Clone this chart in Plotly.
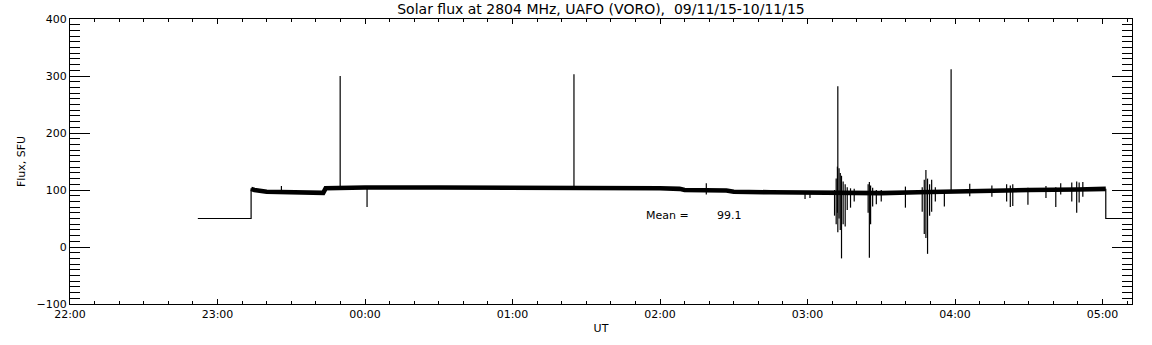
import plotly.graph_objects as go

# ---------------- data ----------------
TITLE = "Solar flux at 2804 MHz, UAFO (VORO),  09/11/15-10/11/15"
X_LABEL = "UT"
Y_LABEL = "Flux, SFU"
MEAN_LABEL = "Mean ="
MEAN_VALUE = "99.1"

# leading / trailing calibration steps (thin line)
step_start_t = ["22:52:00", "23:13:40", "23:13:40"]
step_start_v = [50, 50, 103]
step_end_t = ["05:01:20", "05:01:20", "05:12:00"]
step_end_v = [102, 50, 50]

# smoothed flux level (the thick noisy band)
band_t = ["23:13:40", "23:15:00", "23:20:00", "23:30:00", "23:40:00", "23:43:00",
          "23:44:00", "23:50:00", "00:00:00", "00:30:00", "01:00:00", "01:30:00",
          "02:00:00", "02:08:00", "02:10:00", "02:27:00", "02:30:00", "02:45:00",
          "03:00:00", "03:12:00", "03:30:00", "03:45:00", "04:00:00", "04:30:00",
          "04:50:00", "05:01:20"]
band_v = [102, 100, 97, 96, 95.5, 95,
          103, 104, 104.5, 104.5, 104.5, 104,
          103, 102, 100, 99, 97, 96,
          95.5, 94, 94.5, 96, 98, 100,
          101, 102]

# individual spikes / dips: time, lowest value, highest value
spike_t = ["23:26:00", "23:49:54", "00:00:50", "01:25:00", "02:18:50", "02:59:00",
           "03:01:00", "03:11:00", "03:11:40", "03:12:10", "03:12:20", "03:12:50",
           "03:13:20", "03:13:50", "03:14:30", "03:15:20", "03:16:10", "03:17:30",
           "03:19:00", "03:24:40", "03:25:10", "03:25:40", "03:26:30", "03:28:00",
           "03:30:00", "03:39:50", "03:46:40", "03:47:30", "03:48:10", "03:48:50",
           "03:49:40", "03:50:30", "03:52:00", "03:55:40", "03:58:25", "04:06:00",
           "04:15:00", "04:21:00", "04:22:30", "04:23:30", "04:29:40", "04:37:00",
           "04:41:00", "04:43:00", "04:47:30", "04:49:30", "04:50:30", "04:52:00"]
spike_lo = [96, 104, 70, 104, 92, 84,
            86, 55, 40, 60, 26, 50,
            30, -20, 40, 36, 65, 69,
            80, 60, -19, 40, 71, 75,
            80, 69, 62, 23, 16, -12,
            55, 62, 80, 71, 98, 89,
            88, 80, 70, 72, 74, 86,
            70, 92, 80, 60, 78, 88]
spike_hi = [107, 300, 104, 303, 112, 96,
            96, 100, 120, 141, 282, 138,
            130, 125, 115, 110, 105, 103,
            102, 110, 114, 108, 104, 100,
            100, 106, 105, 118, 135, 120,
            110, 118, 105, 100, 312, 111,
            108, 110, 108, 110, 104, 107,
            105, 112, 113, 115, 113, 114]

X_START = "22:00:00"
X_END = "05:12:00"
Y_RANGE = [-100, 400]


def stamp(hms):
    """Clock time -> full timestamp (evening of 9 Nov, morning of 10 Nov)."""
    hour = int(hms.split(":")[0])
    day = "2015-11-09" if hour >= 12 else "2015-11-10"
    return f"{day} {hms}"


FONT = "DejaVu Sans"
BLACK = "black"

fig = go.Figure()

# thin steps
fig.add_trace(go.Scatter(x=[stamp(t) for t in step_start_t], y=step_start_v,
                         mode="lines", line=dict(color=BLACK, width=1.2),
                         hoverinfo="skip"))
fig.add_trace(go.Scatter(x=[stamp(t) for t in step_end_t], y=step_end_v,
                         mode="lines", line=dict(color=BLACK, width=1.2),
                         hoverinfo="skip"))

# thick band
fig.add_trace(go.Scatter(x=[stamp(t) for t in band_t], y=band_v,
                         mode="lines", line=dict(color=BLACK, width=4.6),
                         hoverinfo="skip"))

# spikes
sx, sy = [], []
for t, lo, hi in zip(spike_t, spike_lo, spike_hi):
    sx += [stamp(t), stamp(t), None]
    sy += [lo, hi, None]
fig.add_trace(go.Scatter(x=sx, y=sy, mode="lines",
                         line=dict(color=BLACK, width=1.2), hoverinfo="skip",
                         connectgaps=False))

fig.add_annotation(x=stamp("01:53:20"), y=56, text=MEAN_LABEL, showarrow=False,
                   xanchor="left", yanchor="middle",
                   font=dict(family=FONT, size=11, color=BLACK))
fig.add_annotation(x=stamp("02:22:30"), y=56, text=MEAN_VALUE, showarrow=False,
                   xanchor="left", yanchor="middle",
                   font=dict(family=FONT, size=11, color=BLACK))

fig.update_layout(
    width=1152, height=345,
    margin=dict(l=70, r=20, t=19, b=41),
    paper_bgcolor="white", plot_bgcolor="white",
    showlegend=False,
    font=dict(family=FONT, size=11, color=BLACK),
    title=dict(text=TITLE, x=0.5, xref="paper", y=1 - 9 / 345, yref="container",
               yanchor="middle", xanchor="center",
               font=dict(family=FONT, size=14, color=BLACK)),
)

fig.update_xaxes(
    type="date",
    range=[stamp(X_START), stamp(X_END)],
    tick0=stamp(X_START), dtick=3600000, tickformat="%H:%M",
    ticks="inside", ticklen=5, tickwidth=1, tickcolor=BLACK,
    minor=dict(dtick=600000, ticks="inside", ticklen=3, tickcolor=BLACK,
               showgrid=False),
    showline=True, linecolor=BLACK, linewidth=1, mirror="ticks",
    showgrid=False, zeroline=False,
    title=dict(text=X_LABEL, standoff=4, font=dict(family=FONT, size=11)),
    automargin=False,
)
fig.update_yaxes(
    range=Y_RANGE, dtick=100, tick0=0,
    ticks="inside", ticklen=20, tickwidth=1, tickcolor=BLACK,
    minor=dict(dtick=10, ticks="inside", ticklen=10, tickcolor=BLACK,
               showgrid=False),
    showline=True, linecolor=BLACK, linewidth=1, mirror="ticks",
    showgrid=False, zeroline=False,
    title=dict(text=Y_LABEL, standoff=8, font=dict(family=FONT, size=11)),
    automargin=False,
)

fig.write_html("out.html",
               config={"displayModeBar": False},
               post_script="document.body.style.margin='0';"
                           "document.body.style.padding='0';")
